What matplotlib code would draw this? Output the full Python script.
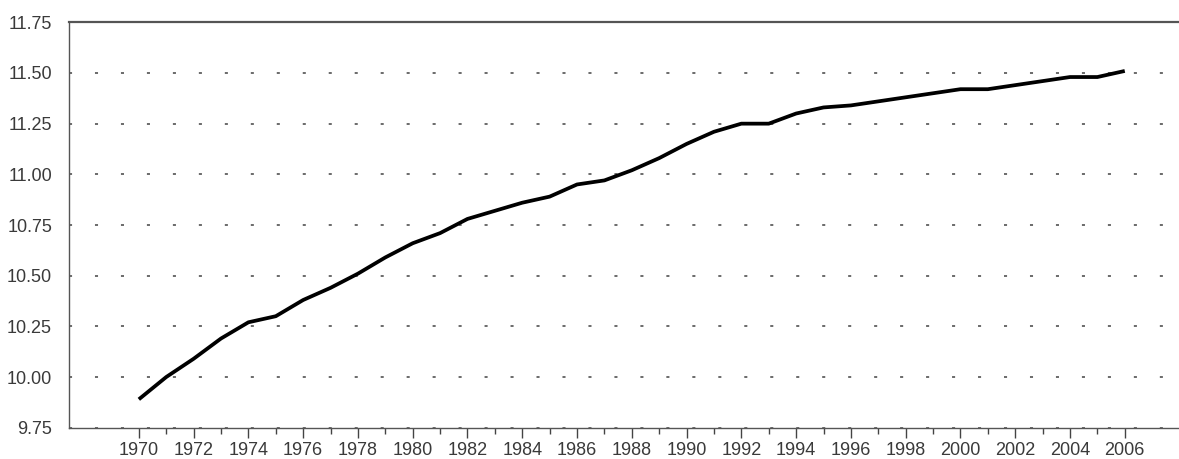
import matplotlib.pyplot as plt
import matplotlib.ticker as mticker
import numpy as np

plt.rcParams['font.family'] = ['Liberation Sans', 'DejaVu Sans']
plt.rcParams['lines.scale_dashes'] = False

# values
years = list(range(1970, 2007))
values = [9.89, 10.00, 10.09, 10.19, 10.27, 10.30, 10.38, 10.44, 10.51, 10.59,
          10.66, 10.71, 10.78, 10.82, 10.86, 10.89, 10.95, 10.97, 11.02, 11.08,
          11.15, 11.21, 11.25, 11.25, 11.30, 11.33, 11.34, 11.36, 11.38, 11.40,
          11.42, 11.42, 11.44, 11.46, 11.48, 11.48, 11.51]
y_ticks = [9.75, 10.00, 10.25, 10.50, 10.75, 11.00, 11.25, 11.50, 11.75]
x_major = list(range(1970, 2007, 2))
x_minor = list(range(1971, 2007, 2))

fig = plt.figure(figsize=(11.79, 4.59), dpi=100)
ax = fig.add_axes([0.0583, 0.0682, 0.9417, 0.8832])

ax.plot(years, values, color='black', linewidth=2.7, solid_capstyle='butt',
        solid_joinstyle='round', zorder=3)

ax.set_xlim(1967.44, 2007.98)
ax.set_ylim(9.75, 11.75)

ax.set_yticks(y_ticks)
ax.yaxis.set_major_formatter(mticker.FormatStrFormatter('%.2f'))
ax.set_xticks(x_major)
ax.set_xticks(x_minor, minor=True)

ax.grid(axis='y', color='#6a6a6a', linewidth=1.4, linestyle=(0, (2.2, 16.5)))
ax.set_axisbelow(True)

ax.tick_params(axis='y', length=0, pad=12, labelsize=13, labelcolor='#3a3a3a')
ax.tick_params(axis='x', which='major', direction='out', length=7, width=1,
               color='#444444', pad=3, labelsize=13, labelcolor='#3a3a3a')
ax.tick_params(axis='x', which='minor', direction='out', length=4, width=1,
               color='#444444')

for side in ['left', 'bottom', 'top']:
    ax.spines[side].set_color('#555555')
    ax.spines[side].set_linewidth(1.0)
ax.spines['top'].set_linewidth(1.6)
ax.spines['right'].set_visible(False)

fig.savefig('out.png', dpi=100)
